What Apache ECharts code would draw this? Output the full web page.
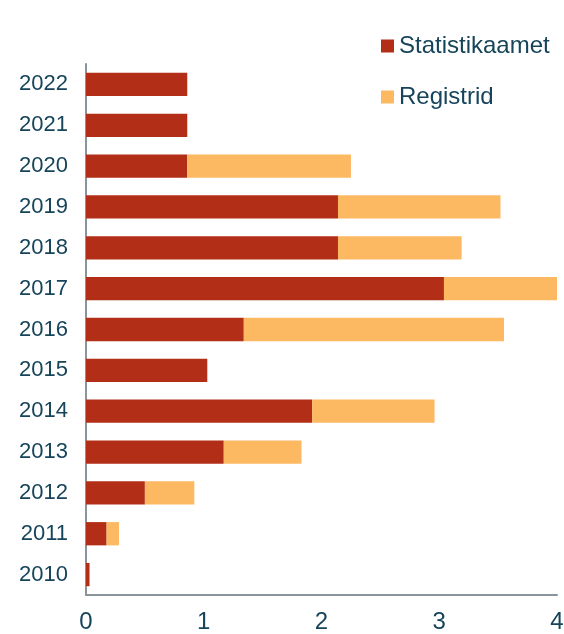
<!DOCTYPE html>
<html>
<head>
<meta charset="utf-8">
<script src="https://cdn.jsdelivr.net/npm/echarts@6/dist/echarts.min.js"></script>
<style>
  html, body {margin: 0; padding: 0; background: #fff;}
  #chart {width: 564px; height: 634px;}
</style>
</head>
<body>
<div id="chart"></div>
<script>
// years, bottom to top
const years = ['2010', '2011', '2012', '2013', '2014', '2015', '2016', '2017', '2018', '2019', '2020', '2021', '2022'];
const statistikaamet = [0.03, 0.175, 0.5, 1.17, 1.92, 1.03, 1.34, 3.04, 2.14, 2.14, 0.86, 0.86, 0.86];
const registrid = [0, 0.105, 0.42, 0.66, 1.04, 0, 2.21, 0.97, 1.05, 1.38, 1.39, 0, 0];
const xTicks = [0, 1, 2, 3, 4];

const textColor = '#16445a';
const font = 'Liberation Sans';

let myChart = echarts.init(document.getElementById('chart'));

let option = {
    animation: false,
    grid: {left: 86, right: 7, top: 64, bottom: 39, containLabel: false, outerBoundsMode: 'none'},
    legend: {
        orient: 'vertical',
        left: 376,
        top: 29,
        itemWidth: 13,
        itemHeight: 13,
        itemGap: 27,
        icon: 'rect',
        textStyle: {color: textColor, fontSize: 24, fontFamily: font},
        data: ['Statistikaamet', 'Registrid']
    },
    xAxis: {
        type: 'value',
        min: xTicks[0],
        max: xTicks[xTicks.length - 1],
        interval: 1,
        axisLine: {show: true, lineStyle: {color: '#8a949b', width: 2}},
        axisTick: {show: false},
        splitLine: {show: false},
        axisLabel: {color: textColor, fontSize: 24, fontFamily: font, margin: 15}
    },
    yAxis: {
        type: 'category',
        data: years,
        axisLine: {show: true, lineStyle: {color: '#8a949b', width: 2}},
        axisTick: {show: false},
        axisLabel: {color: textColor, fontSize: 22, fontFamily: font, margin: 18}
    },
    series: [
        {
            name: 'Statistikaamet',
            type: 'bar',
            stack: 'total',
            barWidth: '57%',
            itemStyle: {color: '#b22e17'},
            data: statistikaamet
        },
        {
            name: 'Registrid',
            type: 'bar',
            stack: 'total',
            barWidth: '57%',
            itemStyle: {color: '#fdb862'},
            data: registrid
        }
    ]
};

myChart.setOption(option);
</script>
</body>
</html>
